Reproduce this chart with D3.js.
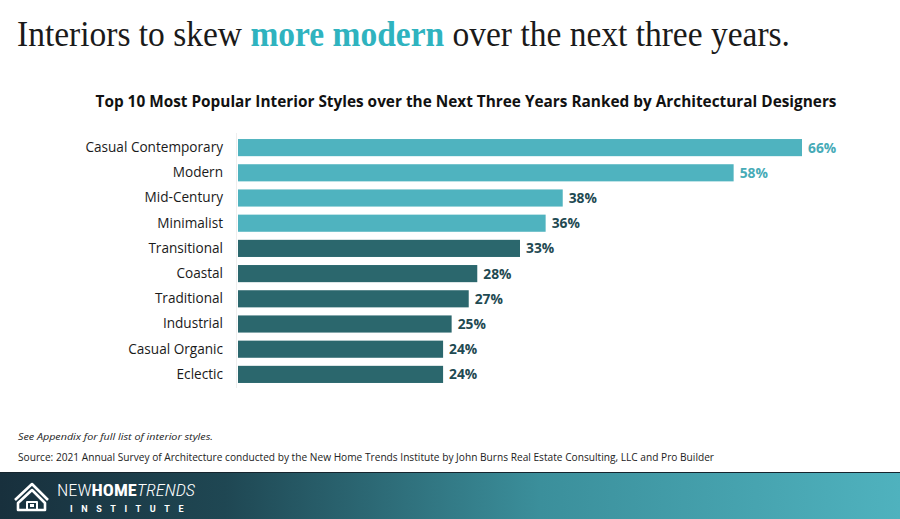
<!DOCTYPE html>
<html><head><meta charset="utf-8">
<script src="https://cdn.jsdelivr.net/npm/d3@7"></script>
<style>html,body{margin:0;padding:0;background:#fff;}svg{display:block;}</style>
</head><body>
<script>
const categories = ["Casual Contemporary","Modern","Mid-Century","Minimalist","Transitional","Coastal","Traditional","Industrial","Casual Organic","Eclectic"];
const values = [66,58,38,36,33,28,27,25,24,24];
const highlight = [true,true,true,true,false,false,false,false,false,false];
const labelTeal = [true,true,false,false,false,false,false,false,false,false];

const W=900,H=519;
const svg=d3.select("body").append("svg").attr("width",W).attr("height",H);

const defs=svg.append("defs");
const g1=defs.append("linearGradient").attr("id","foot").attr("x1","0%").attr("x2","100%");
g1.append("stop").attr("offset","0%").attr("stop-color","#18303d");
g1.append("stop").attr("offset","25%").attr("stop-color","#1f4753");
g1.append("stop").attr("offset","60%").attr("stop-color","#3b8f9b");
g1.append("stop").attr("offset","100%").attr("stop-color","#4fb2be");

// Title
const t=svg.append("text").attr("x",17).attr("y",46)
  .attr("font-family","Liberation Serif, serif").attr("font-size",35).attr("fill","#1a1a1a")
  .attr("textLength",773).attr("lengthAdjust","spacingAndGlyphs");
t.append("tspan").text("Interiors to skew ");
t.append("tspan").attr("fill","#2fb3bf").attr("font-weight","bold").text("more modern");
t.append("tspan").text(" over the next three years.");

svg.append("text").attr("x",466).attr("y",107).attr("text-anchor","middle")
  .attr("font-family","Open Sans").attr("font-weight","bold").attr("font-size",15.2).attr("fill","#111")
  .attr("textLength",741).attr("lengthAdjust","spacingAndGlyphs")
  .text("Top 10 Most Popular Interior Styles over the Next Three Years Ranked by Architectural Designers");

const x=d3.scaleLinear().domain([0,66]).range([238,802]);
const y=d3.scaleBand().domain(categories).range([135,387]).paddingInner(0.32).paddingOuter(0.16);

svg.append("line").attr("x1",236.5).attr("x2",236.5).attr("y1",133).attr("y2",388).attr("stroke","#eeeeee");

svg.selectAll("rect.bar").data(categories).join("rect").attr("class","bar")
  .attr("x",x(0)).attr("y",d=>y(d)).attr("height",y.bandwidth())
  .attr("width",(d,i)=>x(values[i])-x(0))
  .attr("fill",(d,i)=>highlight[i]?"#4fb3bf":"#2b676d");

const yAxis=d3.axisLeft(y).tickSize(0).tickPadding(14);
const ga=svg.append("g").attr("transform","translate(237,0)").call(yAxis);
ga.select(".domain").remove();
ga.selectAll("text").attr("font-family","Open Sans").attr("font-size",13.6).attr("fill","#1a1a1a");

svg.selectAll("text.val").data(categories).join("text").attr("class","val")
  .attr("x",(d,i)=>x(values[i])+6).attr("y",d=>y(d)+y.bandwidth()/2).attr("dy","0.36em")
  .attr("font-family","Open Sans").attr("font-weight","bold").attr("font-size",13.8)
  .attr("fill",(d,i)=>labelTeal[i]?"#47abb7":"#1f4a52")
  .text((d,i)=>values[i]+"%");

svg.append("text").attr("x",18).attr("y",440).attr("font-family","Open Sans").attr("font-style","italic")
  .attr("font-size",9.8).attr("fill","#222").attr("textLength",195).attr("lengthAdjust","spacingAndGlyphs")
  .text("See Appendix for full list of interior styles.");
svg.append("text").attr("x",18).attr("y",461).attr("font-family","Open Sans")
  .attr("font-size",10.2).attr("fill","#222").attr("textLength",696).attr("lengthAdjust","spacingAndGlyphs")
  .text("Source: 2021 Annual Survey of Architecture conducted by the New Home Trends Institute by John Burns Real Estate Consulting, LLC and Pro Builder");

// Footer
svg.append("rect").attr("x",0).attr("y",472).attr("width",W).attr("height",H-472).attr("fill","url(#foot)");
svg.append("line").attr("x1",0).attr("x2",W).attr("y1",472.5).attr("y2",472.5).attr("stroke","#16252e").attr("stroke-width",1);

// logo house
const lg=svg.append("g").attr("fill","none").attr("stroke","#fff").attr("stroke-width",2.6).attr("stroke-linejoin","round");
lg.append("path").attr("d","M15,500 L32,484 L48,500");
lg.append("path").attr("d","M18,510 L18,503 L32,490 L45,503 L45,510 Z");
lg.append("path").attr("d","M27,510 L27,502 L37,502 L37,510").attr("stroke-width",2);
lg.append("rect").attr("x",30).attr("y",504).attr("width",4).attr("height",3).attr("fill","#fff").attr("stroke","none");

const lt=svg.append("text").attr("x",57).attr("y",496).attr("font-family","Roboto Condensed, Roboto, Liberation Sans Narrow, sans-serif")
  .attr("font-size",16).attr("fill","#fff").attr("textLength",138).attr("lengthAdjust","spacingAndGlyphs");
lt.append("tspan").attr("font-weight","300").text("NEW");
lt.append("tspan").attr("font-weight","bold").text("HOME");
lt.append("tspan").attr("font-style","italic").attr("font-weight","300").text("TRENDS");
svg.append("text").attr("x",70).attr("y",512).attr("font-family","Roboto").attr("font-weight","bold")
  .attr("font-size",9).attr("fill","#fff").attr("letter-spacing",8.6).text("INSTITUTE");
</script>
</body></html>
